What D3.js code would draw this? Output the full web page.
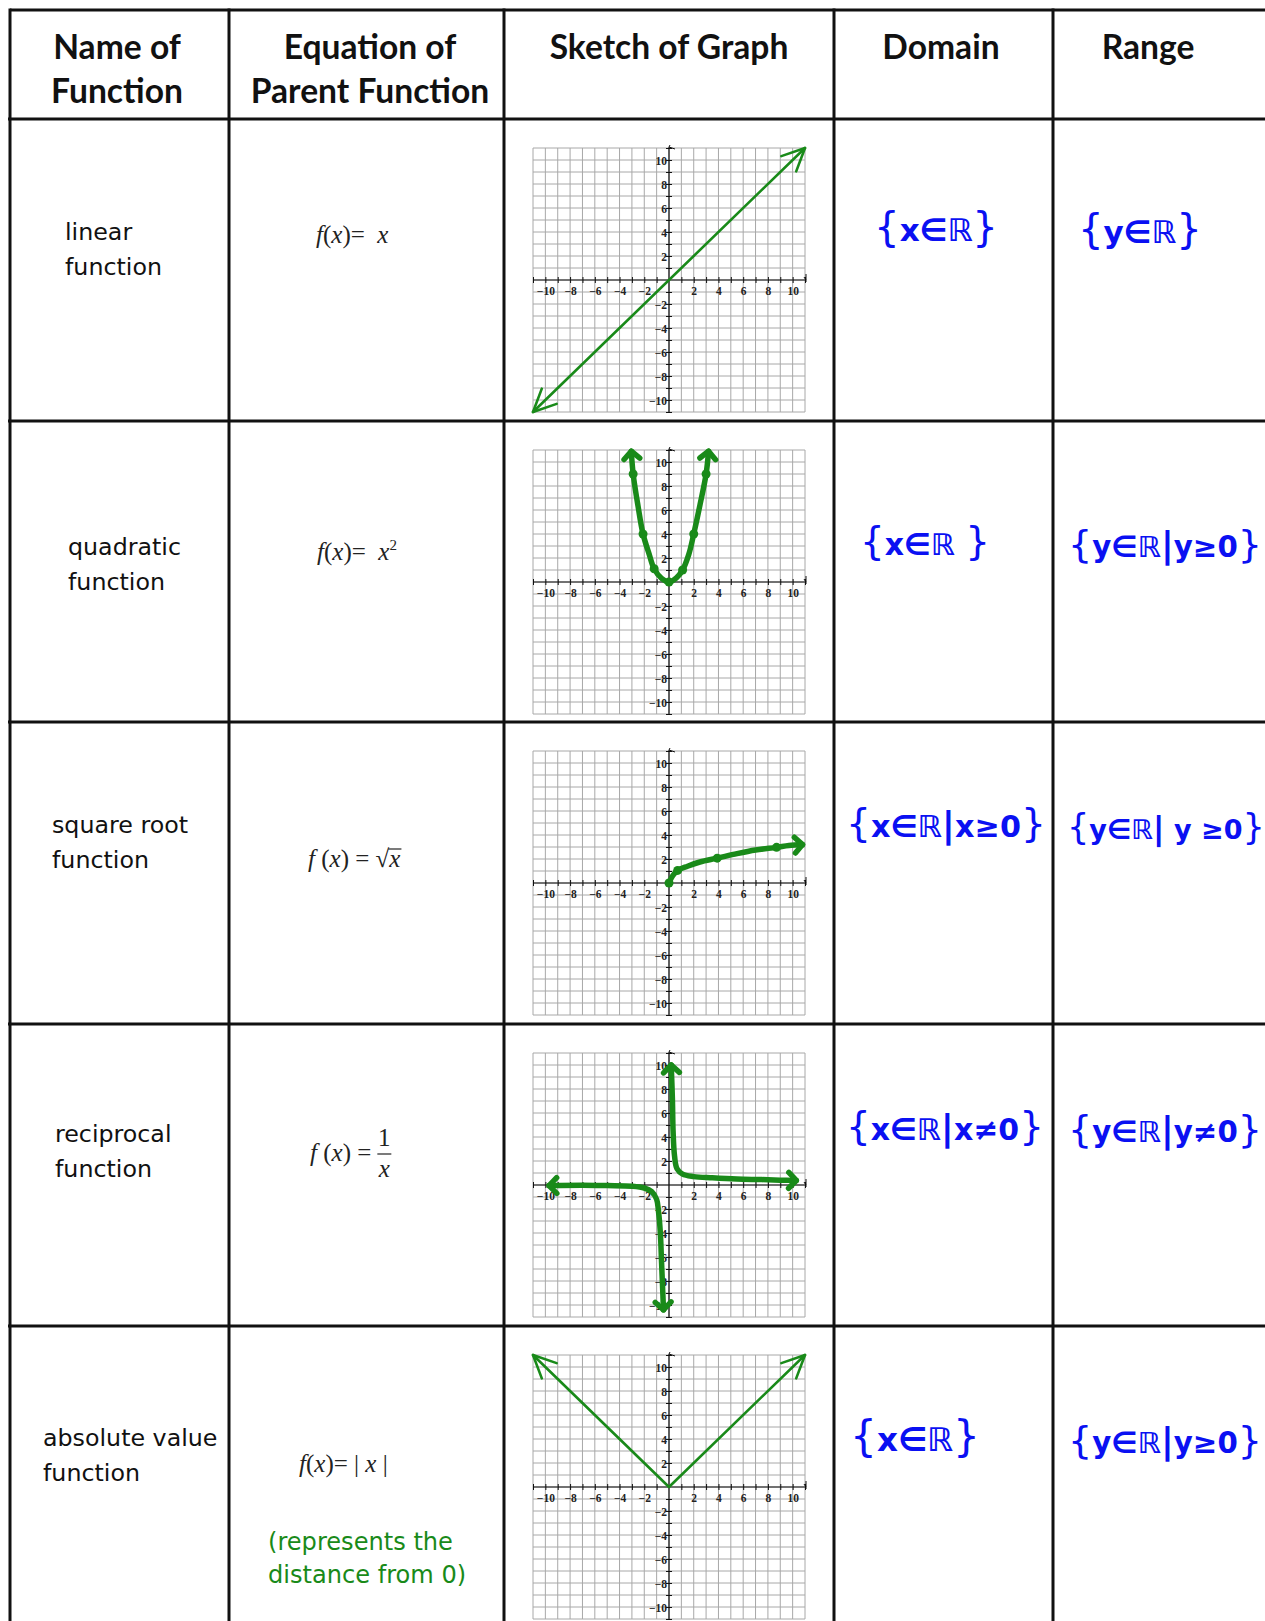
<!DOCTYPE html>
<html>
<head>
<meta charset="utf-8">
<script src="https://cdn.jsdelivr.net/npm/d3@7"></script>
<style>
  body { margin: 0; background: #fff; }
</style>
</head>
<body>
<svg id="chart" width="1265" height="1621"></svg>
<script>
// ---- table content ----
const headers = [["Name of", "Function"], ["Equation of", "Parent Function"], ["Sketch of Graph"], ["Domain"], ["Range"]];
const names = [["linear", "function"], ["quadratic", "function"], ["square root", "function"], ["reciprocal", "function"], ["absolute value", "function"]];
const domains = ["{x∈ℝ}", "{x∈ℝ }", "{x∈ℝ|x≥0}", "{x∈ℝ|x≠0}", "{x∈ℝ}"];
const ranges = ["{y∈ℝ}", "{y∈ℝ|y≥0}", "{y∈ℝ| y ≥0}", "{y∈ℝ|y≠0}", "{y∈ℝ|y≥0}"];
const note = ["(represents the", "distance from 0)"];

// ---- sketch data ----
const tickValues = [-10, -8, -6, -4, -2, 2, 4, 6, 8, 10];
const axisExtent = [-11, 11];
const linearPts = [[-11, -11], [11, 11]];
const quadPts = [[-3.05, 10.9], [-2.9, 9], [-2.5, 6.3], [-2.1, 4], [-1.6, 2.3], [-1.2, 1.1], [-0.6, 0.3], [0, 0], [0.6, 0.35], [1.1, 1], [1.6, 2.3], [2, 4], [2.5, 6.4], [3, 9], [3.2, 10.9]];
const quadDots = [[-2.9, 9], [-2.1, 4], [-1.2, 1.1], [0, 0], [1.1, 1], [2, 4], [3, 9]];
const sqrtPts = [[0, 0], [0.3, 0.6], [0.7, 1.05], [1.5, 1.4], [2.5, 1.75], [3.9, 2.07], [5.5, 2.45], [7, 2.75], [8.7, 2.97], [9.7, 3.12], [10.8, 3.2]];
const sqrtDots = [[0, 0], [0.7, 1.05], [3.9, 2.07], [8.7, 2.97]];
const recipRight = [[0.18, 10], [0.28, 7], [0.33, 4.5], [0.45, 2.4], [0.65, 1.35], [1.1, 0.9], [2, 0.7], [3.5, 0.6], [5.5, 0.5], [7.5, 0.45], [9, 0.4], [10.3, 0.38]];
const recipLeft = [[-9.7, -0.05], [-7, -0.02], [-5, -0.05], [-3, -0.1], [-2, -0.25], [-1.4, -0.55], [-1, -1.2], [-0.85, -2.2], [-0.7, -4], [-0.6, -6.5], [-0.5, -9], [-0.45, -10.4]];
const absPts = [[-11, 11], [0, 0], [11, 11]];

// ---- layout ----
const colX = [10, 229, 504, 834, 1053];
const rowY = [10, 119, 421, 722, 1024, 1326];
const W = 1265, H = 1621;
const ink = "#111", green = "#198a19", blue = "#0a10f2";

const svg = d3.select("#chart");
svg.append("rect").attr("width", W).attr("height", H).attr("fill", "#fff");

// measure helper: font size giving a target width
function fitSize(text, family, weight, target, probe = 40) {
  const t = svg.append("text").attr("font-family", family).attr("font-weight", weight)
    .attr("font-size", probe).text(text);
  const w = t.node().getComputedTextLength();
  t.remove();
  return probe * target / w;
}

// ---- header ----
const headFont = "Lato";
const headTargets = [[127, 131], [175, 240], [242], [117], [91]];
const headCenters = [117, 370, 669, 941, 1148];
const headSize = d3.mean(headers.flatMap((lines, i) => lines.map((s, j) => fitSize(s, headFont, 700, headTargets[i][j]))));
headers.forEach((lines, i) => {
  lines.forEach((s, j) => {
    svg.append("text").attr("x", headCenters[i]).attr("y", 59 + j * 44)
      .attr("text-anchor", "middle").attr("font-family", headFont).attr("font-weight", 700)
      .attr("font-size", headSize).attr("fill", ink).text(s);
  });
});

// ---- function names ----
const nameFont = "DejaVu Sans";
const nameSize = fitSize("function", nameFont, 400, 97);
const nameX = [65, 68, 52, 55, 43];
const nameBase = [240, 555, 833, 1142, 1446];
names.forEach((lines, i) => {
  lines.forEach((s, j) => {
    svg.append("text").attr("x", nameX[i]).attr("y", nameBase[i] + j * 35)
      .attr("font-family", nameFont).attr("font-size", nameSize).attr("fill", ink).text(s);
  });
});

// ---- equations ----
const eqFont = "Liberation Serif", eqSize = 25;
function eqText(x, y, parts) {
  const t = svg.append("text").attr("x", x).attr("y", y).attr("font-family", eqFont)
    .attr("font-size", eqSize).attr("fill", "#222").attr("xml:space", "preserve");
  parts.forEach(p => {
    const s = t.append("tspan").text(p.t);
    if (p.i) s.attr("font-style", "italic");
    if (p.sup) s.attr("font-size", 15).attr("dy", -10);
  });
  return t;
}
eqText(316, 243, [{t: "f", i: 1}, {t: "("}, {t: "x", i: 1}, {t: ")=  "}, {t: "x", i: 1}]);
eqText(317, 560, [{t: "f", i: 1}, {t: "("}, {t: "x", i: 1}, {t: ")=  "}, {t: "x", i: 1}, {t: "2", sup: 1}]);
{
  const t = eqText(308, 867, [{t: "f", i: 1}, {t: " ("}, {t: "x", i: 1}, {t: ") = "}, {t: "√"}, {t: "x", i: 1}]);
  const n = t.node(), len = n.getComputedTextLength();
  const xw = n.getSubStringLength(n.textContent.length - 1, 1);
  svg.append("line").attr("x1", 308 + len - xw - 1).attr("x2", 308 + len + 1)
    .attr("y1", 867 - 18).attr("y2", 867 - 18).attr("stroke", "#222").attr("stroke-width", 1.2);
}
{
  const t = eqText(310, 1161, [{t: "f", i: 1}, {t: " ("}, {t: "x", i: 1}, {t: ") ="}]);
  const fx = 310 + t.node().getComputedTextLength() + 6;
  svg.append("text").attr("x", fx + 7).attr("y", 1146).attr("text-anchor", "middle")
    .attr("font-family", eqFont).attr("font-size", eqSize).attr("fill", "#222").text("1");
  svg.append("line").attr("x1", fx).attr("x2", fx + 14).attr("y1", 1154).attr("y2", 1154)
    .attr("stroke", "#222").attr("stroke-width", 1.2);
  svg.append("text").attr("x", fx + 7).attr("y", 1177).attr("text-anchor", "middle")
    .attr("font-family", eqFont).attr("font-size", eqSize).attr("font-style", "italic")
    .attr("fill", "#222").text("x");
}
eqText(299, 1472, [{t: "f", i: 1}, {t: "("}, {t: "x", i: 1}, {t: ")= | "}, {t: "x", i: 1}, {t: " |"}]);

// green note under |x|
const noteSize = fitSize(note[0], nameFont, 400, 185);
note.forEach((s, j) => {
  svg.append("text").attr("x", 268).attr("y", 1550 + j * 33).attr("font-family", nameFont)
    .attr("font-size", noteSize).attr("fill", green).text(s);
});

// ---- domain / range (hand written) ----
const setFont = "DejaVu Sans";
function setText(s, x0, x1, base) {
  const probe = 33;
  const t = svg.append("text").attr("x", x0).attr("y", base).attr("font-family", setFont)
    .attr("font-weight", 700).attr("font-size", probe).attr("fill", blue)
    .attr("xml:space", "preserve");
  Array.from(s).forEach(ch => {
    const sp = t.append("tspan").text(ch);
    if (ch === "{" || ch === "}") sp.attr("font-size", "1.3em").attr("font-weight", 400);
    if (ch === "|") sp.attr("font-size", "1.2em");
  });
  const w = t.node().getComputedTextLength();
  const fs = Math.max(27, Math.min(38, probe * (x1 - x0) / w));
  t.attr("font-size", fs);
}
const domX = [[874, 998], [860, 990], [846, 1046], [846, 1044], [850, 980]];
const ranX = [[1078, 1202], [1068, 1262], [1067, 1262], [1068, 1262], [1068, 1262]];
const setBase = [241, 555, 837, 1140, 1451];
domains.forEach((s, i) => setText(s, domX[i][0], domX[i][1], setBase[i]));
ranges.forEach((s, i) => setText(s, ranX[i][0], ranX[i][1], setBase[i] + 2));

// ---- sketches ----
const gx = 533, gw = 272, gh = 264;
const x = d3.scaleLinear().domain(axisExtent).range([0, gw]);
const y = d3.scaleLinear().domain(axisExtent).range([gh, 0]);
const smooth = d3.line().x(d => x(d[0])).y(d => y(d[1])).curve(d3.curveCatmullRom);
const straight = d3.line().x(d => x(d[0])).y(d => y(d[1]));

function arrowHead(g, pts, atEnd, len, ang, width) {
  const p = atEnd ? pts[pts.length - 1] : pts[0];
  const q = atEnd ? pts[pts.length - 2] : pts[1];
  const tx = x(p[0]), ty = y(p[1]);
  const a = Math.atan2(y(q[1]) - ty, x(q[0]) - tx);
  const arm = [[tx + len * Math.cos(a + ang), ty + len * Math.sin(a + ang)], [tx, ty],
               [tx + len * Math.cos(a - ang), ty + len * Math.sin(a - ang)]];
  g.append("path").attr("d", d3.line()(arm)).attr("fill", "none").attr("stroke", green)
    .attr("stroke-width", width).attr("stroke-linecap", "round").attr("stroke-linejoin", "round");
}

const thin = {width: 2.6, len: 25, ang: 0.44, line: straight};
const thick = {width: 5.5, len: 11, ang: 0.8, line: smooth};
const panels = [
  {curves: [{pts: linearPts, ends: [0, 1], s: thin}], dots: []},
  {curves: [{pts: quadPts, ends: [0, 1], s: thick}], dots: quadDots},
  {curves: [{pts: sqrtPts, ends: [1], s: thick}], dots: sqrtDots},
  {curves: [{pts: recipRight, ends: [0, 1], s: thick}, {pts: recipLeft, ends: [0, 1], s: thick}], dots: []},
  {curves: [{pts: absPts, ends: [0, 1], s: thin}], dots: []}
];

panels.forEach((pan, i) => {
  const g = svg.append("g").attr("transform", `translate(${gx},${rowY[i + 1] + 29})`);
  const units = d3.range(axisExtent[0], axisExtent[1] + 1);
  // grid
  g.append("g").selectAll("line.v").data(units).join("line")
    .attr("x1", d => x(d)).attr("x2", d => x(d)).attr("y1", 0).attr("y2", gh)
    .attr("stroke", "#a8a8a8").attr("stroke-width", 1);
  g.append("g").selectAll("line.h").data(units).join("line")
    .attr("y1", d => y(d)).attr("y2", d => y(d)).attr("x1", 0).attr("x2", gw)
    .attr("stroke", "#a8a8a8").attr("stroke-width", 1);

  // axes lines with crossing ticks
  const xa = g.append("g").attr("transform", `translate(0,${y(0) - 3})`)
    .call(d3.axisBottom(x).tickValues(units.filter(d => d !== 0)).tickSize(6).tickFormat(""));
  xa.select(".domain").remove();
  const ya = g.append("g").attr("transform", `translate(${x(0) + 3},0)`)
    .call(d3.axisLeft(y).tickValues(units.filter(d => d !== 0)).tickSize(6).tickFormat(""));
  ya.select(".domain").remove();
  g.selectAll(".tick line").attr("stroke", ink).attr("stroke-width", 1);
  g.append("line").attr("x1", 0).attr("x2", gw + 1).attr("y1", y(0)).attr("y2", y(0)).attr("stroke", ink).attr("stroke-width", 1.2);
  g.append("line").attr("x1", x(0)).attr("x2", x(0)).attr("y1", -1).attr("y2", gh).attr("stroke", ink).attr("stroke-width", 1.2);
  // tiny axis-end arrows
  g.append("path").attr("d", `M${x(0)},${-1} l6,2 M${x(0)},${-1} l1,-2`).attr("stroke", ink).attr("stroke-width", 1).attr("fill", "none");
  g.append("path").attr("d", `M${gw + 1},${y(0) - 6} l0,8 M${gw + 1},${y(0)} l-2,-3`).attr("stroke", ink).attr("stroke-width", 1).attr("fill", "none");

  // labels
  const xl = g.append("g").attr("transform", `translate(0,${y(0)})`)
    .call(d3.axisBottom(x).tickValues(tickValues).tickSize(0).tickPadding(7));
  xl.select(".domain").remove();
  const yl = g.append("g").attr("transform", `translate(${x(0) - 2},0)`)
    .call(d3.axisLeft(y).tickValues(tickValues).tickSize(0).tickPadding(0));
  yl.select(".domain").remove();
  g.selectAll("text").attr("font-family", "Liberation Serif").attr("font-size", 11.5)
    .attr("font-weight", 700).attr("fill", "#222");
  yl.selectAll("text").attr("dy", "0.35em");

  // curves
  pan.curves.forEach(c => {
    g.append("path").attr("d", c.s.line(c.pts)).attr("fill", "none").attr("stroke", green)
      .attr("stroke-width", c.s.width).attr("stroke-linecap", "round").attr("stroke-linejoin", "round");
    c.ends.forEach(e => arrowHead(g, c.pts, e === 1, c.s.len, c.s.ang, c.s.width));
  });
  g.selectAll("circle").data(pan.dots).join("circle")
    .attr("cx", d => x(d[0])).attr("cy", d => y(d[1])).attr("r", 4.5).attr("fill", green);
});

// ---- table rules ----
const rules = svg.append("g").attr("stroke", ink).attr("stroke-width", 3);
rules.selectAll("line.col").data(colX).join("line")
  .attr("x1", d => d).attr("x2", d => d).attr("y1", rowY[0] - 1.5).attr("y2", H);
rules.selectAll("line.row").data(rowY).join("line")
  .attr("y1", d => d).attr("y2", d => d).attr("x1", (d, i) => i === 0 ? colX[0] : colX[0] - 2).attr("x2", W);
</script>
</body>
</html>
